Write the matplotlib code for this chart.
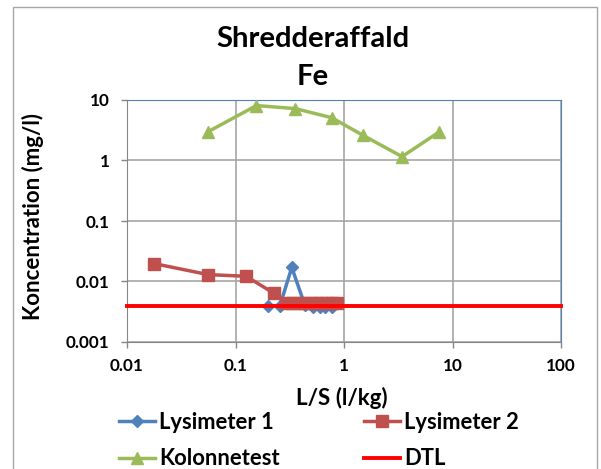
import matplotlib
matplotlib.use("Agg")
import matplotlib.pyplot as plt
from matplotlib.patches import Rectangle

plt.rcParams['font.family'] = ['Lato', 'DejaVu Sans']
plt.rcParams['font.weight'] = 'bold'

title_lines = ["Shredderaffald", "Fe"]
xlabel = "L/S (l/kg)"
ylabel = "Koncentration (mg/l)"

lys1_x = [0.2, 0.256, 0.33, 0.435, 0.52, 0.6, 0.67, 0.77]
lys1_y = [0.0039, 0.0039, 0.0171, 0.0041, 0.0038, 0.0038, 0.0038, 0.0038]

lys2_x = [0.0177, 0.056, 0.125, 0.226, 0.29, 0.33, 0.38, 0.43, 0.49, 0.55, 0.62, 0.7, 0.78, 0.87]
lys2_y = [0.0198, 0.013, 0.0122, 0.0064, 0.0044, 0.0044, 0.0044, 0.0044, 0.0044, 0.0044, 0.0044, 0.0044, 0.0044, 0.0044]

kol_x = [0.056, 0.156, 0.357, 0.77, 1.5, 3.43, 7.5]
kol_y = [3.0, 8.1, 7.2, 5.1, 2.6, 1.16, 2.95]

dtl_x = [0.01, 100]
dtl_y = [0.0039, 0.0039]

xticks = [0.01, 0.1, 1, 10, 100]
xticklabels = ["0.01", "0.1", "1", "10", "100"]
yticks = [0.001, 0.01, 0.1, 1, 10]
yticklabels = ["0.001", "0.01", "0.1", "1", "10"]

W, H = 601, 469
fig = plt.figure(figsize=(W / 100, H / 100), dpi=100)
renderer = fig.canvas.get_renderer()


def fit(text, target_px):
    t = fig.text(0, 0, text, fontsize=10, fontweight='bold')
    w = t.get_window_extent(renderer).width
    t.remove()
    return 10.0 * target_px / w


def fx(px):
    return px / W


def fy(py):
    return 1 - py / H


fig.patches.append(Rectangle((fx(13), -0.01), fx(597 - 13), 1.01 - 7 / H,
                             transform=fig.transFigure, fill=False,
                             edgecolor='#A6A6A6', linewidth=1.0))

ax = fig.add_axes([fx(127), fy(342), fx(561 - 127), (342 - 100) / H])
ax.set_xscale('log')
ax.set_yscale('log')
ax.set_xlim(0.01, 100)
ax.set_ylim(0.001, 10)

ax.grid(True, which='major', color='#A6A6A6', linewidth=1.2)
ax.set_axisbelow(True)

blue = '#4F81BD'
red = '#C0504D'
green = '#9BBB59'

ax.plot(lys1_x, lys1_y, color=blue, linewidth=2.5, marker='D', markersize=6,
        label='Lysimeter 1', zorder=3)
ax.plot(lys2_x, lys2_y, color=red, linewidth=2.5, marker='s', markersize=8,
        label='Lysimeter 2', zorder=4)
ax.plot(kol_x, kol_y, color=green, linewidth=2.5, marker='^', markersize=9,
        label='Kolonnetest', zorder=4)
ax.plot(dtl_x, dtl_y, color='#FF0000', linewidth=2.8, label='DTL', zorder=5,
        clip_on=False)

tick_fs = fit("100", 30)
ax.set_xticks(xticks)
ax.set_xticklabels(xticklabels)
ax.set_yticks(yticks)
ax.set_yticklabels(yticklabels)
ax.minorticks_off()
ax.tick_params(axis='both', labelsize=tick_fs, length=4.5, color='#868686', width=1)
ax.tick_params(axis='x', pad=7)
ax.tick_params(axis='y', pad=8)
for lab in ax.get_xticklabels() + ax.get_yticklabels():
    lab.set_fontweight('bold')

for s in ['left', 'bottom']:
    ax.spines[s].set_color('#868686')
for s in ['top', 'right']:
    ax.spines[s].set_color('#4F81BD')

fig.text(fx(342), fy(398), xlabel, ha='center', va='center',
         fontsize=fit(xlabel, 92), fontweight='bold')
fig.text(fx(33), fy(216.5), ylabel, ha='center', va='center', rotation=90,
         fontsize=fit(ylabel, 207), fontweight='bold')

title_fs = fit(title_lines[0], 195)
fig.text(fx(313), fy(47), title_lines[0], ha='center', va='baseline',
         fontsize=title_fs, fontweight='bold')
fig.text(fx(313), fy(85), title_lines[1], ha='center', va='baseline',
         fontsize=title_fs, fontweight='bold')

leg_fs = fit("Lysimeter 1", 115)
fpx = leg_fs * 100 / 72
handles, labels = ax.get_legend_handles_labels()
order = [0, 2, 1, 3]
leg = fig.legend([handles[i] for i in order], [labels[i] for i in order],
                 loc='center', bbox_to_anchor=(fx(319), fy(440.5)), ncol=2,
                 frameon=False, fontsize=leg_fs, handlelength=36 / fpx,
                 handletextpad=4 / fpx, columnspacing=84 / fpx,
                 labelspacing=0.7, borderpad=0)
for t in leg.get_texts():
    t.set_fontweight('bold')

fig.savefig("out.png", dpi=100)
